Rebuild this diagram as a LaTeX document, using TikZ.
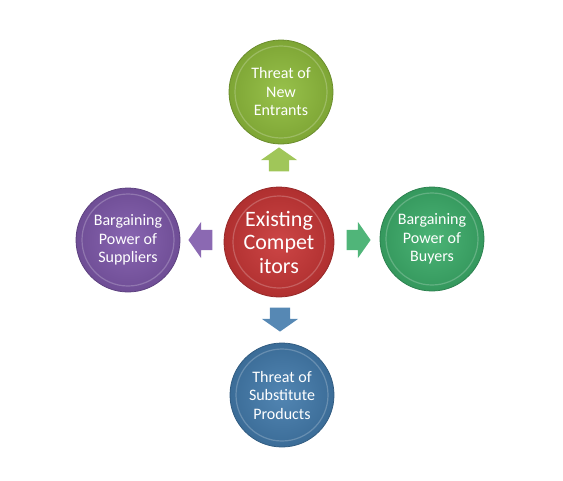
\documentclass[tikz,border=0pt]{standalone}
\usepackage{fontspec}
\setmainfont{Carlito}
\usetikzlibrary{shapes.arrows}
\definecolor{cgreen}{HTML}{8FBC3C}
\definecolor{cred}{HTML}{C83636}
\definecolor{cpurple}{HTML}{7E58AA}
\definecolor{cteal}{HTML}{3CAD6A}
\definecolor{cblue}{HTML}{437BAC}
\tikzset{
  ball/.style={circle, minimum size=104pt, inner sep=0pt, align=center,
    text=white, font=\fontsize{16}{18.5}\selectfont,
    draw=#1!75!black, line width=0.8pt, shading=radial,
    inner color=#1!92!white, outer color=#1!88!black,
    path picture={\draw[white, opacity=0.22, line width=1.2pt]
      (path picture bounding box.center) circle (46pt);}},
  blk/.style={single arrow, fill=#1, draw=none, inner xsep=0pt, inner ysep=10pt,
    minimum height=24pt, single arrow head extend=8pt,
    single arrow tip angle=110},
}
\begin{document}
\begin{tikzpicture}[x=1pt, y=-1pt]
  \useasboundingbox (0,0) rectangle (563,480);
  \node[ball=cred, minimum size=110pt, font=\fontsize{22}{23.5}\selectfont] (c) at (279,242) {Existing\\Compet\\itors};
  \node[ball=cgreen] (t) at (281,92) {Threat of\\New\\Entrants};
  \node[ball=cpurple] (l) at (128,240) {Bargaining\\Power of\\Suppliers};
  \node[ball=cteal] (r) at (432,239) {Bargaining\\Power of\\Buyers};
  \node[ball=cblue] (b) at (282,395) {Threat of\\Substitute\\Products};
  % arrows
  \node[blk=cgreen!85!white, rotate=90] (at) at (279,163) {};
  \node[blk=cpurple!90!white, rotate=180] (al) at (204,240) {};
  \node[blk=cteal!90!white] (ar) at (355,240) {};
  \node[blk=cblue!90!white, rotate=270] (ab) at (280,316) {};
\end{tikzpicture}
\end{document}
